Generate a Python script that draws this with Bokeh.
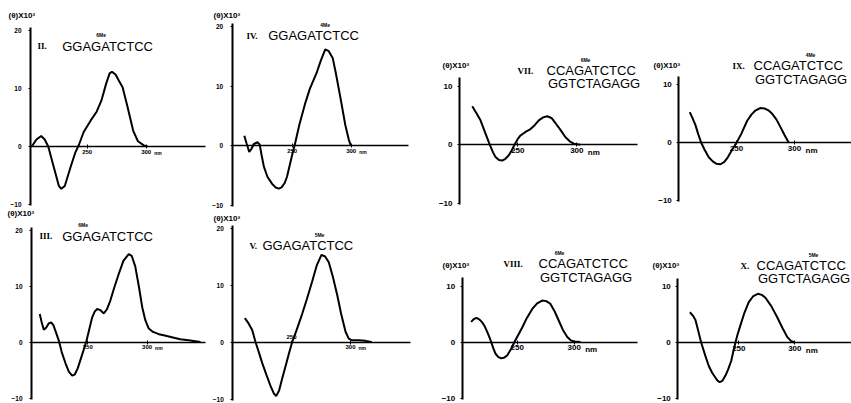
from bokeh.plotting import figure
from bokeh.models import Range1d, FixedTicker, Label, Spacer
from bokeh.layouts import row, column
from bokeh.embed import file_html
from bokeh.resources import INLINE

# ---------------- data ----------------
wl_ii = [203, 207, 211, 214, 217, 222, 226, 228, 231, 236, 240, 243, 247, 253, 258, 262, 266, 269, 271, 274, 277, 280, 284, 289, 293, 298, 301]
th_ii = [0, 1.2, 1.8, 1.2, 0, -3.8, -6.8, -7.3, -6.8, -3.5, -1.0, 0.3, 2.5, 4.5, 6.0, 7.9, 10.8, 12.6, 12.9, 12.4, 11.3, 10.2, 7.0, 2.7, 0.9, 0.2, 0]

wl_iv = [209.4, 211.5, 213.6, 215.5, 217.5, 220.6, 222.5, 224, 226, 229, 233, 236, 238.6, 241, 243.5, 245.6, 248, 250, 252, 256, 260.8, 265, 270.6, 274, 278, 281, 284.4, 287, 291.4, 295, 298, 299.7]
th_iv = [1.7, 0.3, -1.05, -0.5, 0.3, 0.6, 0.2, -1.5, -3.5, -5.2, -6.4, -7.0, -7.2, -7.0, -6.3, -5.2, -3.2, -1.5, 0, 3.5, 7.0, 9.6, 12.2, 14.2, 16.2, 15.9, 14.7, 12.2, 7.5, 3.5, 1.0, 0]

wl_iii = [209.5, 211, 212.9, 215, 217, 219.1, 221, 223, 225.5, 228, 231.2, 234, 236.8, 239, 241.5, 243.8, 246.5, 249, 251.5, 253.7, 256, 258, 260.5, 263.5, 266, 269, 272, 276, 280, 284.5, 287, 290, 293, 295.9, 298.5, 301.4, 305, 310, 314, 320, 328, 335, 345]
th_iii = [5.0, 3.6, 2.2, 2.6, 3.3, 3.5, 3.0, 1.8, 0.3, -1.8, -3.8, -5.3, -6.0, -5.8, -4.7, -3.2, -1.4, 0.3, 2.5, 4.4, 5.5, 5.9, 5.7, 5.1, 5.8, 7.4, 9.5, 12.1, 14.5, 15.7, 15.4, 13.5, 10.0, 6.2, 3.9, 2.4, 1.8, 1.4, 1.2, 0.9, 0.5, 0.3, 0]

wl_v = [210.4, 213.5, 216.7, 219.5, 222.5, 225.2, 229, 232.2, 235, 237, 239.5, 242, 245, 248, 250.6, 254, 259, 263, 267.5, 271.5, 275.4, 278.5, 281.6, 285, 288.7, 292, 295.8, 298.5, 301.4, 307, 312.7, 318]
th_v = [4.2, 3.3, 2.1, 0, -1.9, -3.7, -5.9, -7.7, -9.0, -9.5, -8.5, -6.5, -4.2, -1.9, 0, 1.9, 4.9, 7.5, 10.6, 13.5, 15.3, 15.0, 14.0, 11.5, 8.3, 5.0, 1.8, 0.6, 0.3, 0.3, 0.2, 0]

wl_vii = [211.4, 215, 218.4, 222.5, 226.3, 229, 231.1, 234, 236.8, 239.5, 242.4, 245, 247.2, 250, 252.3, 256.5, 260.8, 264.5, 267.8, 271.5, 274.9, 278.5, 282, 286, 290.4, 294, 297.5, 303]
th_vii = [6.6, 5.4, 4.2, 2.0, 0, -1.3, -2.1, -2.6, -2.7, -2.4, -1.8, -0.9, 0, 1.0, 1.6, 2.2, 2.7, 3.4, 4.2, 4.7, 4.9, 4.6, 3.7, 2.6, 1.3, 0.6, 0.2, 0]

wl_viii = [209.6, 212, 214.3, 217, 219.3, 221.5, 223.7, 225.5, 227.2, 229, 231, 233.5, 236, 238.5, 241.2, 243, 244.7, 247.6, 251, 254.4, 258.5, 263.2, 267.5, 271.9, 275.5, 279.2, 283, 286.5, 290, 293.9, 297, 299.6, 305.5]
th_viii = [3.6, 4.1, 4.3, 4.0, 3.5, 2.8, 1.8, 0.9, 0, -1.1, -2.1, -2.7, -2.9, -2.8, -2.4, -1.8, -1.2, 0, 1.3, 2.6, 4.3, 5.9, 6.9, 7.4, 7.3, 6.8, 5.4, 3.8, 2.2, 0.9, 0.3, 0.1, 0]

wl_ix = [209.7, 212, 214.7, 217, 219.6, 222.5, 226.1, 229.5, 232.5, 236.2, 239.5, 242.5, 246, 250, 254, 259.2, 263, 266.5, 270.7, 274.5, 277.5, 280.8, 284.5, 287.9, 291.5, 295.1]
th_ix = [5.3, 4.3, 3.0, 1.5, 0, -1.2, -2.5, -3.2, -3.6, -3.7, -3.3, -2.5, -1.3, 0, 1.5, 3.8, 4.9, 5.6, 6.0, 5.9, 5.6, 5.0, 4.0, 2.7, 1.3, 0]

wl_x = [206.3, 209, 211.3, 213.5, 216.4, 220, 223.2, 226.2, 229.2, 231, 233, 235.5, 238.1, 240.5, 243.2, 245, 247, 249, 251.5, 255, 258.9, 263, 267, 270.5, 273.8, 279, 284.3, 289, 293.2, 296.5, 299.7]
th_x = [5.4, 4.8, 4.0, 2.3, 0, -2.3, -4.2, -5.4, -6.3, -6.8, -7.1, -6.8, -5.9, -4.8, -3.3, -1.7, 0, 1.5, 3.1, 5.3, 7.2, 8.3, 8.7, 8.5, 8.0, 6.5, 4.5, 2.6, 1.0, 0.3, 0]

x_ticks = [250, 300]
x_tick_labels = {250: "250", 300: "300"}
y_ticks_left = [-10, 0, 10, 20]
y_ticks_right = [-10, 0, 10]
y_label = "(θ)X10³"

numerals = ["II.", "IV.", "III.", "V.", "VII.", "IX.", "VIII.", "X."]
strand1 = ["GGAGATCTCC"] * 4 + ["CCAGATCTCC"] * 4
strand2 = [None] * 4 + ["GGTCTAGAGG"] * 4
mod_pos = [4, 6, 2, 6, 4, 6, 2, 6]
mod_text = ["6Me", "4Me", "6Me", "5Me", "6Me", "4Me", "6Me", "5Me"]

FONT = "Liberation Sans"
INK = "black"


def make_panel(i, wl, th, box, xmap, ymap, axis_px, end_px, right, lab, num, seq,
               seq2_py=None, tick250_above=False):
    L, R, T, B = box
    p250, s = xmap      # page x of the 250 nm tick, pixels per 50 nm
    z0, k = ymap        # page y of zero, pixels per unit

    def nx(px):
        return 250 + (px - p250) * 50.0 / s

    def vy(py):
        return (z0 - py) / k

    p = figure(width=R - L, height=B - T, x_range=Range1d(nx(L), nx(R)), y_range=Range1d(vy(B), vy(T)),
               output_backend="svg", toolbar_location=None,
               min_border_left=0, min_border_right=0, min_border_top=0, min_border_bottom=0)
    p.outline_line_color = None
    p.grid.visible = False
    p.background_fill_color = "white"
    p.border_fill_color = "white"

    p.line(wl, th, line_color=INK, line_width=2)

    lab_fs = "8px" if right else "6.5px"

    ya = p.yaxis[0]
    ya.fixed_location = nx(axis_px)
    ya.ticker = FixedTicker(ticks=y_ticks_right if right else y_ticks_left)
    ya.bounds = (-10.2, 11.5) if right else (-10.2, 20.5)
    ya.axis_line_width = 2
    ya.axis_line_color = INK
    ya.major_tick_line_color = INK
    ya.major_tick_out = 2
    ya.major_tick_in = 0
    ya.minor_tick_out = 0
    ya.minor_tick_in = 0
    ya.major_label_text_font = FONT
    ya.major_label_text_font_style = "bold"
    ya.major_label_text_color = INK
    ya.major_label_text_font_size = lab_fs
    ya.major_label_standoff = 5 if right else 7

    xa = p.xaxis[0]
    xa.fixed_location = 0
    xa.bounds = (nx(axis_px), nx(end_px))
    xa.ticker = FixedTicker(ticks=x_ticks)
    overrides = dict(x_tick_labels)
    if tick250_above:
        overrides[250] = ""
    xa.major_label_overrides = overrides
    xa.axis_line_width = 1.5
    xa.axis_line_color = INK
    xa.major_tick_line_color = INK
    xa.major_tick_out = 2
    xa.major_tick_in = 2
    xa.minor_tick_out = 0
    xa.minor_tick_in = 0
    xa.major_label_text_font = FONT
    xa.major_label_text_font_style = "bold"
    xa.major_label_text_color = INK
    xa.major_label_text_font_size = "8px" if right else "6px"
    xa.major_label_standoff = 1

    if tick250_above:
        p.add_layout(Label(x=250, y=0, y_offset=3, text=x_tick_labels[250], text_font=FONT,
                           text_font_style="bold", text_color=INK, text_font_size="6px",
                           text_baseline="bottom", text_align="center"))

    p.add_layout(Label(x=300, y=0, x_offset=11 if right else 8, y_offset=-3,
                       text="nm", text_font=FONT, text_font_style="bold", text_color=INK,
                       text_font_size="8px" if right else "5px", text_baseline="top", text_align="left"))

    p.add_layout(Label(x=nx(lab[0]), y=vy(lab[1]), text=y_label, text_font=FONT,
                       text_font_style="bold", text_font_size="8px", text_color=INK,
                       text_baseline="middle", text_align="left"))
    p.add_layout(Label(x=nx(num[0]), y=vy(num[1]), text=numerals[i], text_font="Liberation Serif",
                       text_font_style="bold", text_font_size="9px", text_color=INK,
                       text_baseline="middle", text_align="left"))
    p.add_layout(Label(x=nx(seq[0]), y=vy(seq[1]), text=strand1[i], text_font=FONT,
                       text_font_size="13px", text_color=INK,
                       text_baseline="middle", text_align="left"))
    if seq2_py is not None:
        p.add_layout(Label(x=nx(seq[0] + 1.5), y=vy(seq2_py), text=strand2[i], text_font=FONT,
                           text_font_size="13px", text_color=INK,
                           text_baseline="middle", text_align="left"))
    p.add_layout(Label(x=nx(seq[0]), y=vy(seq[1]), x_offset=mod_pos[i] * 9.0 + 3, y_offset=8,
                       text=mod_text[i], text_font=FONT, text_font_style="bold", text_color=INK,
                       text_font_size="5px", text_baseline="bottom", text_align="center"))
    return p


p2 = make_panel(0, wl_ii, th_ii, (0, 210, 0, 208), (86.7, 59), (146, 5.8), 30, 205, False,
                (8, 15), (37, 45.7), (61.7, 45.7))
p4 = make_panel(1, wl_iv, th_iv, (210, 425, 0, 208), (291.7, 59), (145.3, 5.95), 231.7, 408, False,
                (213, 15), (246, 35), (267.7, 35))
p3 = make_panel(2, wl_iii, th_iii, (0, 210, 208, 403), (87.3, 59.3), (341.5, 5.6), 31, 205, False,
                (7, 213), (39, 235.7), (61.7, 235.7))
p5 = make_panel(3, wl_v, th_v, (210, 425, 208, 403), (291, 59), (341.5, 5.7), 232.3, 410, False,
                (213, 218), (249, 245), (262, 245), tick250_above=True)

p7 = make_panel(4, wl_vii, th_vii, (425, 645, 45, 215), (517.3, 59), (144.3, 5.83), 459, 636.7, True,
                (442, 65), (517, 70), (546, 70), 83.3)
p9 = make_panel(5, wl_ix, th_ix, (645, 851, 45, 215), (736, 58), (142.3, 5.8), 678.3, 851, True,
                (653, 65), (732, 65), (753, 65), 79.3)
p8 = make_panel(6, wl_viii, th_viii, (425, 645, 245, 403), (516.7, 57), (341.5, 5.6), 461.7, 636.7, True,
                (442, 265), (503, 263.3), (538, 263.3), 276.7)
p10 = make_panel(7, wl_x, th_x, (645, 851, 245, 403), (738.3, 56), (342, 5.6), 677.3, 851, True,
                 (652, 265), (740, 265), (756, 265), 278)

left = column(row(p2, p4), row(p3, p5))
right = column(Spacer(width=426, height=45), row(p7, p9), Spacer(width=426, height=30), row(p8, p10))
layout = row(left, right)

open("out.html", "w").write(file_html(layout, INLINE))
